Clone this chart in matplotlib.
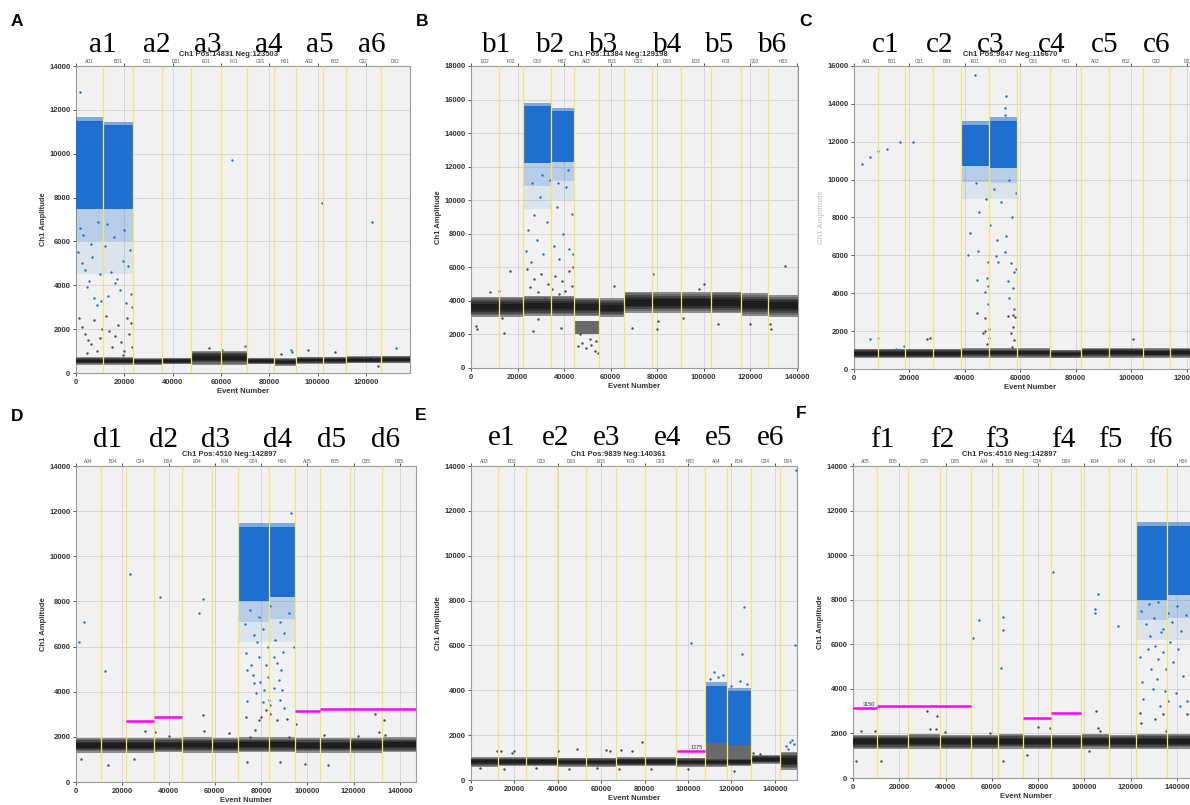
import numpy as np
import matplotlib.pyplot as plt

plt.rcParams['font.family'] = ['Liberation Sans', 'DejaVu Sans']

W, H = 1190, 805
BLUE = '#1f6fd0'
GRAY = '#4a4a4a'
MAGENTA = '#ff00ff'
YELLOW = '#efe86c'

# ---------------- A ----------------
a_wells = ['A01', 'B01', 'C01', 'D01', 'E01', 'F01', 'G01', 'H01', 'A02', 'B02', 'C02', 'D02']
a_edges = [0, 11200, 23600, 35600, 47600, 60000, 70800, 82000, 91100, 102300, 111800, 126300, 138300]
a_neg_lo = [380, 380, 380, 400, 380, 380, 400, 340, 420, 420, 440, 450]
a_neg_hi = [720, 720, 680, 700, 1000, 1000, 700, 680, 740, 740, 760, 780]
a_pos_lo = [7500, 7500, 0, 0, 0, 0, 0, 0, 0, 0, 0, 0]
a_pos_hi = [11500, 11300, 0, 0, 0, 0, 0, 0, 0, 0, 0, 0]
a_rain_lo = [4500, 4500, 0, 0, 0, 0, 0, 0, 0, 0, 0, 0]
a_blue = [(1700, 12800), (800, 5500), (2500, 5000), (3800, 4700), (5200, 4200), (6100, 5900),
          (7400, 3400), (8800, 3100), (9900, 4500), (1500, 6600), (3000, 6300), (4600, 3900),
          (6800, 5300), (9200, 6900), (10500, 3300), (12000, 5800), (13300, 3500), (14500, 4600),
          (15800, 6200), (17000, 4300), (18200, 3800), (19500, 5100), (20600, 3200), (21500, 4900),
          (22400, 5600), (23000, 3000), (12800, 6800), (16200, 4100), (19900, 6500), (22800, 3600),
          (64600, 9700), (101800, 7750), (122500, 6900), (60300, 1050), (70000, 1250),
          (89200, 1050), (89500, 950), (132400, 1150), (123000, 750)]
a_gray = [(1200, 2500), (2600, 2100), (3900, 1800), (5100, 1500), (6300, 1300), (7600, 2400),
          (8700, 1000), (9800, 1600), (10600, 2000), (4400, 900), (12400, 2600), (13600, 1900),
          (14900, 1200), (16100, 1700), (17400, 2200), (18700, 1400), (20000, 1000), (21100, 2500),
          (22000, 1800), (23000, 1200), (22600, 2300), (19400, 800), (107200, 960), (55000, 1150),
          (96000, 1050), (125000, 300), (85000, 850)]

# ---------------- B ----------------
b_wells = ['E02', 'F02', 'G02', 'H02', 'A03', 'B03', 'C03', 'D03', 'E03', 'F03', 'G03', 'H03']
b_edges = [0, 12000, 22400, 34400, 44300, 55100, 65800, 77800, 90300, 103200, 116100, 127700, 140500]
b_neg_lo = [3050, 3050, 3100, 3100, 3100, 3050, 3300, 3300, 3300, 3250, 3100, 3050]
b_neg_hi = [4250, 4250, 4300, 4300, 4200, 4150, 4550, 4500, 4500, 4550, 4450, 4350]
b_pos_lo = [0, 0, 12200, 12300, 0, 0, 0, 0, 0, 0, 0, 0]
b_pos_hi = [0, 0, 15600, 15300, 0, 0, 0, 0, 0, 0, 0, 0]
b_rain_lo = [0, 0, 9500, 10000, 0, 0, 0, 0, 0, 0, 0, 0]
b_extra = [(44300, 55100, 2000, 2800)]
b_blue = [(23500, 7000), (24500, 8200), (25800, 6300), (27000, 9100), (28500, 7600), (29800, 10200),
          (31000, 6800), (32500, 8700), (33800, 11200), (35500, 7300), (36800, 9600), (38000, 6500),
          (39500, 8000), (40800, 10800), (42000, 7100), (43200, 9200), (43800, 6800), (26000, 11000),
          (30500, 11500), (37500, 11000), (41500, 11800)]
b_gray = [(24000, 5900), (25500, 4800), (27200, 5300), (28800, 4500), (30200, 5600), (31800, 4200),
          (33200, 5000), (34800, 4700), (36200, 5500), (37800, 4400), (39200, 5200), (40600, 4600),
          (42000, 5800), (43500, 4900), (26500, 2200), (29000, 2900), (38500, 2400), (44000, 6000),
          (2000, 2500), (2600, 2300), (8000, 4500), (12000, 4600), (14000, 2100), (16800, 5800),
          (13500, 3000), (46000, 1300), (47500, 1500), (49500, 1200), (51500, 1400), (53200, 1000),
          (54500, 900), (51000, 1700), (47000, 2000), (53800, 1600), (61500, 4900), (78000, 5600),
          (79800, 2300), (80500, 2800), (69000, 2400), (98000, 4700), (100000, 5000), (91000, 3000),
          (106000, 2600), (120000, 2600), (128500, 2600), (135000, 6100), (129000, 2300)]

# ---------------- C ----------------
c_wells = ['A01', 'B01', 'C01', 'D01', 'E01', 'F01', 'G01', 'H01', 'A02', 'B02', 'C02', 'D02']
c_edges = [0, 8700, 18400, 28500, 38600, 48700, 58800, 70800, 82000, 92100, 104300, 114100, 127000]
c_neg_lo = [580, 580, 580, 580, 600, 600, 600, 560, 600, 600, 590, 600]
c_neg_hi = [1080, 1080, 1080, 1080, 1100, 1100, 1100, 1020, 1120, 1120, 1100, 1120]
c_pos_lo = [0, 0, 0, 0, 10700, 10600, 0, 0, 0, 0, 0, 0]
c_pos_hi = [0, 0, 0, 0, 12900, 13100, 0, 0, 0, 0, 0, 0]
c_rain_lo = [0, 0, 0, 0, 9000, 9000, 0, 0, 0, 0, 0, 0]
c_blue = [(2900, 10800), (5800, 11200), (8700, 11500), (11900, 11600), (16600, 12000), (21300, 12000),
          (5800, 1560), (8700, 1650), (15000, 1030), (18200, 1200), (41300, 6020), (44300, 4700),
          (47300, 4040), (47900, 4780), (48200, 4390), (48400, 5630), (48500, 3420), (51300, 5980),
          (51900, 5630), (54300, 6190), (55500, 4650), (56100, 3770), (56700, 5590), (57300, 4300),
          (57600, 5100), (57800, 3150), (58400, 5300), (44900, 6250), (42000, 7200), (45000, 8300),
          (47500, 9000), (49000, 7600), (50500, 9500), (53000, 8800), (55000, 7000), (57000, 8000),
          (58500, 9300), (44000, 9800), (51500, 6800), (56000, 10000), (43700, 15500), (54800, 14400),
          (54300, 13800), (54500, 13400)]
c_gray = [(44300, 2970), (47300, 2700), (46500, 1900), (47300, 2000), (47900, 1330), (48800, 2090),
          (48800, 1650), (55500, 2800), (56700, 1900), (57800, 1520), (57000, 1170), (57400, 2200),
          (26200, 1560), (27400, 1650), (100600, 1560), (58000, 2750), (57500, 2850)]

# ---------------- D ----------------
d_wells = ['A04', 'B04', 'C04', 'D04', 'E04', 'F04', 'G04', 'H04', 'A05', 'B05', 'C05', 'D05']
d_edges = [0, 10700, 21400, 33800, 45800, 58700, 69800, 83500, 94600, 105400, 118600, 132300, 146900]
d_neg_lo = [1300, 1300, 1300, 1320, 1300, 1300, 1320, 1320, 1300, 1300, 1300, 1320]
d_neg_hi = [1950, 1950, 1950, 1950, 1980, 1950, 1980, 1980, 1950, 1950, 1960, 1980]
d_pos_lo = [0, 0, 0, 0, 0, 0, 8000, 8200, 0, 0, 0, 0]
d_pos_hi = [0, 0, 0, 0, 0, 0, 11300, 11300, 0, 0, 0, 0]
d_rain_lo = [0, 0, 0, 0, 0, 0, 6200, 6200, 0, 0, 0, 0]
d_thresh = [(21400, 33800, 2700), (33800, 45800, 2900), (94600, 105400, 3150), (105400, 146900, 3250)]
d_blue = [(73400, 5700), (73700, 4960), (74000, 3590), (75500, 5190), (76500, 4740), (77000, 4370),
          (77800, 3930), (79000, 5560), (79500, 4440), (80600, 3560), (81200, 4070), (82300, 5190),
          (82800, 4670), (83300, 3630), (83800, 3410), (85500, 5560), (85700, 4150), (86700, 5260),
          (87500, 4520), (88000, 3630), (88400, 4960), (89000, 4070), (89400, 5780), (90000, 3260),
          (73000, 7000), (75000, 7600), (77000, 6500), (79000, 7300), (81000, 6800), (84000, 7800),
          (86000, 6300), (88000, 7100), (90000, 6600), (92000, 7500), (94000, 6000), (78000, 6200),
          (83000, 6000), (93000, 11900), (1300, 6200), (3500, 7100), (12700, 4900), (23300, 9200),
          (53100, 7500), (54900, 8100), (36500, 8200)]
d_gray = [(30000, 2250), (34000, 2200), (40000, 2050), (55000, 2950), (55500, 2250), (66000, 2150),
          (73500, 2900), (74000, 900), (75000, 2000), (79000, 2750), (80000, 2900), (87000, 2750),
          (88000, 900), (91000, 2800), (92000, 2000), (95000, 2550), (99000, 800), (107000, 2100),
          (109000, 750), (122000, 2050), (129000, 3000), (131000, 2200), (133000, 2750),
          (133500, 2100), (14000, 750), (2000, 1000), (25000, 1000), (77500, 2300), (84000, 3000),
          (82000, 3200)]

# ---------------- E ----------------
e_wells = ['A03', 'B03', 'C03', 'D03', 'E03', 'F03', 'G03', 'H03', 'A04', 'B04', 'C04', 'D04']
e_edges = [0, 12400, 25300, 39600, 53000, 66800, 80200, 94500, 107800, 118000, 129000, 142400, 150200]
e_neg_lo = [600, 620, 620, 600, 600, 620, 620, 600, 600, 620, 720, 450]
e_neg_hi = [1020, 1020, 1020, 1000, 1000, 1020, 1020, 1000, 1000, 1000, 1120, 1250]
e_pos_lo = [0, 0, 0, 0, 0, 0, 0, 0, 1650, 1550, 0, 0]
e_pos_hi = [0, 0, 0, 0, 0, 0, 0, 0, 4200, 3950, 0, 0]
e_rain_lo = [0, 0, 0, 0, 0, 0, 0, 0, 1650, 1550, 0, 0]
e_extra = [(107800, 118000, 900, 1650), (118000, 129000, 900, 1550)]
e_thresh = [(95000, 107800, 1275)]
e_blue = [(112000, 4800), (114000, 4600), (116000, 4700), (125000, 5600), (124000, 4400),
          (110000, 4500), (120000, 4200), (127000, 4300), (145000, 1500), (147000, 1700),
          (149000, 1600), (148000, 1800), (146000, 1400), (101500, 6100), (126000, 7700),
          (149800, 13800), (149500, 6000)]
e_gray = [(12000, 1300), (14000, 1300), (19000, 1200), (20000, 1300), (40000, 1300), (49000, 1400),
          (62000, 1350), (64000, 1300), (69000, 1350), (74000, 1300), (79000, 1700), (4000, 550),
          (15000, 500), (30000, 550), (45000, 500), (58000, 550), (68000, 500), (83000, 500),
          (130000, 1200), (133000, 1150), (100000, 500), (121000, 400)]

# ---------------- F ----------------
f_wells = ['A05', 'B05', 'C05', 'D05', 'A04', 'B04', 'C04', 'D04', 'E04', 'F04', 'G04', 'H04']
f_edges = [0, 10400, 23800, 37600, 51000, 62600, 73400, 85500, 98500, 110600, 122200, 135600, 150000]
f_neg_lo = [1300, 1300, 1320, 1300, 1300, 1320, 1300, 1300, 1320, 1300, 1300, 1320]
f_neg_hi = [1950, 1950, 1960, 1950, 1950, 1980, 1950, 1950, 1960, 1950, 1980, 1980]
f_pos_lo = [0, 0, 0, 0, 0, 0, 0, 0, 0, 0, 8000, 8200]
f_pos_hi = [0, 0, 0, 0, 0, 0, 0, 0, 0, 0, 11300, 11300]
f_rain_lo = [0, 0, 0, 0, 0, 0, 0, 0, 0, 0, 6200, 6200]
f_thresh = [(0, 10400, 3150), (10400, 51000, 3250), (73400, 85500, 2700), (85500, 98500, 2900)]
f_blue = [(51700, 6270), (54600, 7110), (63900, 4920), (65000, 6660), (65000, 7220), (86600, 9250),
          (106100, 8270), (104700, 7590), (104700, 7410), (114400, 6840), (124000, 5410),
          (125100, 4290), (125400, 3530), (127600, 5790), (128300, 6390), (129000, 4890),
          (129800, 3980), (130500, 5940), (131200, 4440), (131900, 5340), (132600, 3230),
          (133300, 6540), (134100, 5640), (134800, 3910), (135500, 4890), (136200, 3460),
          (137000, 6090), (138400, 5190), (139800, 3830), (140600, 5790), (141300, 3230),
          (142800, 4590), (144200, 3460), (124500, 7500), (126500, 6900), (128000, 7800),
          (130000, 7200), (132000, 7900), (134000, 6700), (136000, 7400), (138000, 7000),
          (140000, 7700), (142000, 6600), (144000, 7300), (146000, 8000)]
f_gray = [(32100, 3010), (36400, 2780), (33200, 2180), (35700, 2180), (39600, 2060), (105200, 3010),
          (106000, 2260), (106700, 2100), (1400, 750), (12100, 750), (65000, 750), (75300, 1050),
          (102200, 1200), (80000, 2300), (85100, 2260), (3500, 2100), (9300, 2100), (59100, 2000),
          (124000, 2930), (124700, 2480), (125400, 1880), (130500, 2630), (134100, 2860),
          (144200, 2860), (135500, 2100)]

fig = plt.figure(figsize=(W / 100, H / 100), dpi=100)


def panel(box, ymax, edges, wells, neg_lo, neg_hi, pos_lo, pos_hi, rain_lo, blue, gray,
          extra=(), thresh=(), thresh_label=None, ylab_color='#333333'):
    l, r, t, b = box
    ax = fig.add_axes([l / W, 1 - b / H, (r - l) / W, (b - t) / H])
    ax.set_facecolor('#f1f1f1')
    x0 = np.array(edges[:-1])
    w = np.diff(edges)

    # extra gray clouds (double band / rain band)
    for xa, xb, lo2, hi2 in extra:
        ax.bar(xa, hi2 - lo2, xb - xa, lo2, align='edge', color='#6a6a6a', lw=0, zorder=2.5)

    # negative droplet band, darker toward the core
    lo = np.array(neg_lo, float)
    hi = np.array(neg_hi, float)
    span = hi - lo
    for f, c in [(0, '#8c8c8c'), (0.08, '#6a6a6a'), (0.16, '#494949'),
                 (0.25, '#303030'), (0.34, '#1e1e1e')]:
        ax.bar(x0, span * (1 - 2 * f), w, lo + span * f, align='edge', color=c, lw=0, zorder=3)

    # positive droplet clusters: sparse tail, dense body, thin top fringe
    plo = np.array(pos_lo, float)
    phi = np.array(pos_hi, float)
    rlo = np.array(rain_lo, float)
    m = phi > 0
    mid = (rlo + plo) / 2
    ax.bar(x0[m], mid[m] - rlo[m], w[m], rlo[m], align='edge', color=BLUE, alpha=0.1, lw=0, zorder=4)
    ax.bar(x0[m], plo[m] - mid[m], w[m], mid[m], align='edge', color=BLUE, alpha=0.28, lw=0, zorder=4)
    ax.bar(x0[m], phi[m] - plo[m], w[m], plo[m], align='edge', color=BLUE, lw=0, zorder=4)
    ax.bar(x0[m], ymax * 0.012, w[m], phi[m], align='edge', color=BLUE, alpha=0.55, lw=0, zorder=4)

    # single droplets
    bx, by = np.array(blue).T
    gx, gy = np.array(gray).T
    ax.scatter(bx, by, s=3, color=BLUE, lw=0, zorder=5)
    ax.scatter(gx, gy, s=3, color=GRAY, lw=0, zorder=5)

    # well separators
    ax.vlines(edges[1:-1], 0, ymax, colors=YELLOW, lw=0.9, zorder=5.5)

    # thresholds
    for xa, xb, lev in thresh:
        ax.hlines(lev, xa, xb, colors=MAGENTA, lw=1.8, zorder=7)
    if thresh_label:
        tx, ty, txt, ha = thresh_label
        ax.text(tx, ty, txt, fontsize=4, ha=ha, va='bottom', color='#333333', zorder=8)

    ax.set_xlim(0, edges[-1])
    ax.set_ylim(0, ymax)
    xt = np.arange(0, edges[-1] + 1, 20000)
    yt = np.arange(0, ymax + 1, 2000)
    ax.set_xticks(xt, [str(v) for v in xt], fontweight='bold')
    ax.set_yticks(yt, [str(v) for v in yt], fontweight='bold')
    ax.grid(True, color='#d2d2d2', lw=0.6)
    ax.set_axisbelow(True)
    ax.tick_params(labelsize=5.5, length=2.5, width=0.6, colors='#333333', pad=1.5, top=True)
    for s in ax.spines.values():
        s.set_color('#9a9a9a')
        s.set_linewidth(0.8)
    ax.set_xlabel('Event Number', fontsize=5.5, fontweight='bold', labelpad=1.5, color='#333333')
    ax.set_ylabel('Ch1 Amplitude', fontsize=5.5, fontweight='bold', labelpad=1.5, color=ylab_color)

    for i, name in enumerate(wells):
        ax.text((edges[i] + edges[i + 1]) / 2, ymax * 1.006, name, fontsize=3.5, ha='center',
                va='bottom', color='#555555', clip_on=False)
    return ax


panel((76, 410, 66, 373), 14000, a_edges, a_wells, a_neg_lo, a_neg_hi, a_pos_lo, a_pos_hi,
      a_rain_lo, a_blue, a_gray)
panel((471, 798, 66, 368), 18000, b_edges, b_wells, b_neg_lo, b_neg_hi, b_pos_lo, b_pos_hi,
      b_rain_lo, b_blue, b_gray, extra=b_extra)
panel((854, 1206, 66, 369), 16000, c_edges, c_wells, c_neg_lo, c_neg_hi, c_pos_lo, c_pos_hi,
      c_rain_lo, c_blue, c_gray, ylab_color='#cfcfcf')
panel((76, 416, 466, 782), 14000, d_edges, d_wells, d_neg_lo, d_neg_hi, d_pos_lo, d_pos_hi,
      d_rain_lo, d_blue, d_gray, thresh=d_thresh)
panel((471, 797, 466, 780), 14000, e_edges, e_wells, e_neg_lo, e_neg_hi, e_pos_lo, e_pos_hi,
      e_rain_lo, e_blue, e_gray, extra=e_extra, thresh=e_thresh,
      thresh_label=(107000, 1330, '1275', 'right'))
panel((853, 1200, 466, 778), 14000, f_edges, f_wells, f_neg_lo, f_neg_hi, f_pos_lo, f_pos_hi,
      f_rain_lo, f_blue, f_gray, thresh=f_thresh,
      thresh_label=(4300, 3200, '3150', 'left'))


def ftext(x, y, s, **kw):
    fig.text(x / W, 1 - y / H, s, **kw)


# plot titles
titles = ['Ch1 Pos:14831 Neg:123503', 'Ch1 Pos:11384 Neg:129198', 'Ch1 Pos:9847 Neg:116670',
          'Ch1 Pos:4510 Neg:142897', 'Ch1 Pos:9839 Neg:140361', 'Ch1 Pos:4510 Neg:142897']
title_xy = [(228, 54), (618, 54), (1010, 54), (229, 454), (618, 454), (1009, 454)]
for (x, y), s in zip(title_xy, titles):
    ftext(x, y, s, fontsize=5.5, fontweight='bold', ha='center', va='center', color='#333333')

# sample group labels
groups = ['a', 'b', 'c', 'd', 'e', 'f']
group_x = [[103, 157, 208, 269, 320, 372],
           [497, 551, 604, 668, 720, 773],
           [886, 940, 991, 1052, 1105, 1157],
           [108, 163, 215, 278, 332, 385],
           [502, 556, 607, 668, 719, 771],
           [882, 942, 997, 1063, 1110, 1160]]
group_y = [52, 52, 52, 447, 445, 447]
for g, xs, y in zip(groups, group_x, group_y):
    for k, x in enumerate(xs):
        ftext(x, y, f'{g}{k + 1}', fontsize=21, family='Liberation Serif', ha='center',
              va='baseline', color='black')

# panel letters
letters = ['A', 'B', 'C', 'D', 'E', 'F']
letter_xy = [(11, 22), (416, 22), (799, 22), (11, 416), (415, 415), (796, 414)]
for (x, y), s in zip(letter_xy, letters):
    ftext(x, y, s, fontsize=12.5, fontweight='bold', ha='left', va='center')

fig.savefig('out.png', dpi=100)
